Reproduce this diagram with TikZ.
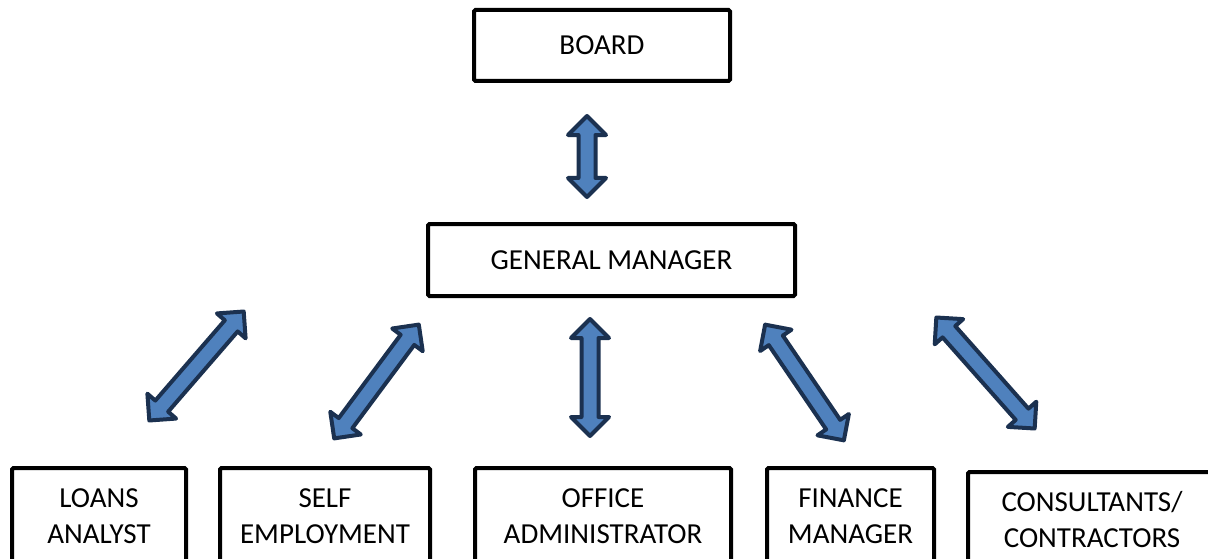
\documentclass[tikz,border=0pt]{standalone}
\usepackage{fontspec}
\setmainfont{Carlito}
\usepackage{tikz}
\usetikzlibrary{calc,shapes.arrows}

\definecolor{arrowfill}{HTML}{4F81BD}
\definecolor{arrowline}{HTML}{1B3150}

\tikzset{
  box/.style={draw,line width=4pt,rounded corners=1.5pt,inner sep=0pt,align=center,
    font=\fontsize{29}{36}\selectfont},
  link/.style={double arrow,draw=arrowline,fill=arrowfill,line width=4pt,line join=round,
    inner xsep=0pt,inner ysep=6.5pt,double arrow head extend=10.5pt,double arrow tip angle=90}
}
\newcommand{\linkarrow}[2]{%
  \path let \p1=($(#2)-(#1)$),\n1={atan2(\y1,\x1)},\n2={veclen(\x1,\y1)-4} in
    node[link,rotate=\n1,minimum height=\n2] at ($(#1)!0.5!(#2)$) {};}

\begin{document}
\begin{tikzpicture}[x=1pt,y=-1pt]
  \useasboundingbox (0,0) rectangle (1208,559);
  \node[box,minimum width=256pt,minimum height=71pt] (board) at (602,45.5) {BOARD};
  \node[box,minimum width=367pt,minimum height=72pt] (gm) at (611.5,260) {GENERAL MANAGER};
  \node[box,minimum width=174pt,minimum height=97pt] (loans) at (99,516.5) {LOANS\\ANALYST};
  \node[box,minimum width=210pt,minimum height=97pt] (self) at (325,516.5) {SELF\\EMPLOYMENT};
  \node[box,minimum width=256pt,minimum height=97pt] (office) at (603,516.5) {OFFICE\\ADMINISTRATOR};
  \node[box,minimum width=167pt,minimum height=97pt] (finance) at (850.5,516.5) {FINANCE\\MANAGER};
  \node[box,minimum width=248pt,minimum height=95pt] (consult) at (1092,519.5) {CONSULTANTS/\\CONTRACTORS};

  \coordinate (u0) at (587,114);  \coordinate (d0) at (587,199);
  \coordinate (u1) at (245,310);  \coordinate (d1) at (148,422);
  \coordinate (u2) at (420,323);  \coordinate (d2) at (333,440);
  \coordinate (u3) at (590,317);  \coordinate (d3) at (590,438);
  \coordinate (u4) at (764,323);  \coordinate (d4) at (845,442);
  \coordinate (u5) at (935,316);  \coordinate (d5) at (1036,430);
  \foreach \i in {0,...,5} {\linkarrow{u\i}{d\i}}
\end{tikzpicture}
\end{document}
